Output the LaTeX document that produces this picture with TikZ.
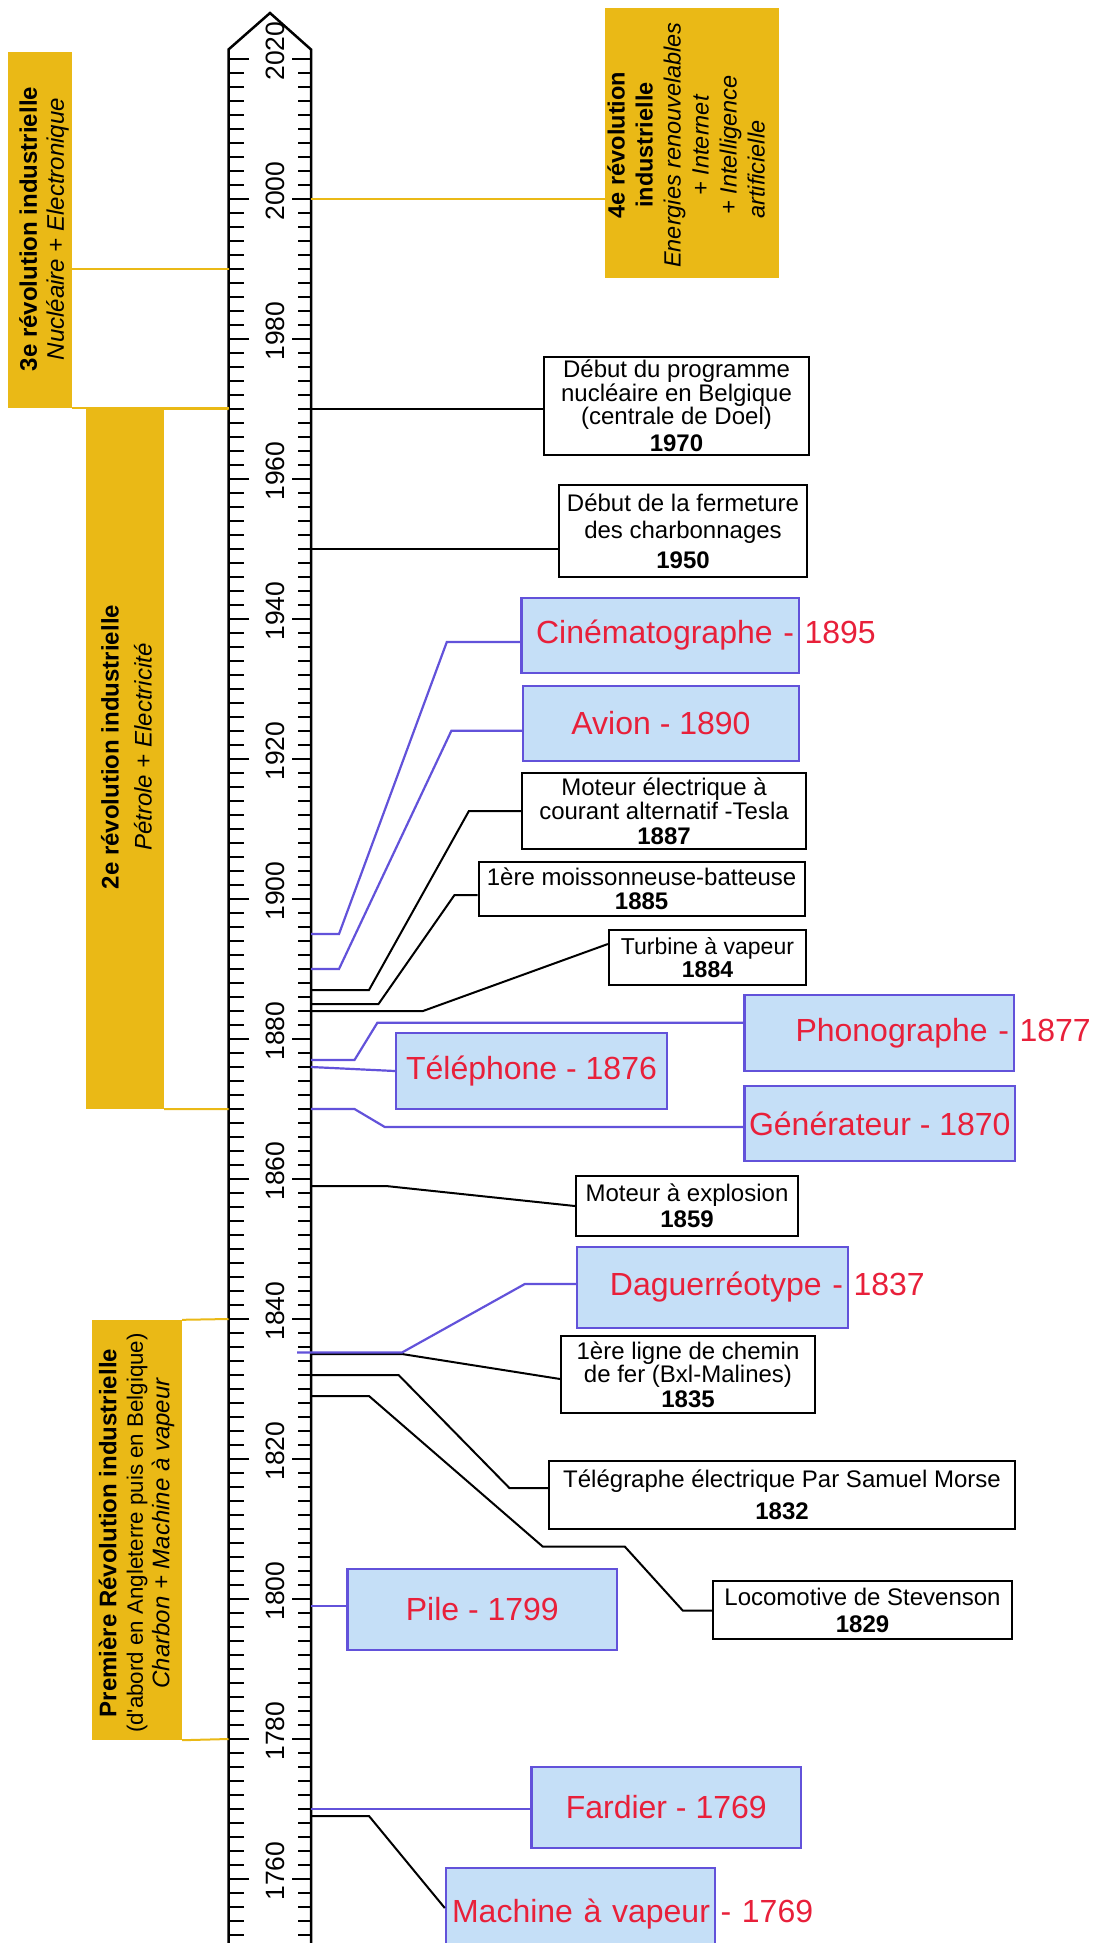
\documentclass[tikz,border=0pt]{standalone}
\usepackage{fontspec}
\setmainfont{Liberation Sans}
\usetikzlibrary{calc,positioning}

\definecolor{revyellow}{RGB}{234,185,22}
\definecolor{invfill}{RGB}{197,223,247}
\definecolor{invblue}{RGB}{98,82,218}
\definecolor{invred}{RGB}{232,32,58}

\begin{document}
\begin{tikzpicture}[x=1pt, y=-1pt,
    declare function={yr(\t)=199+7*(2000-\t);},
    revbox/.style={fill=revyellow, inner sep=0pt},
    revtext/.style={rotate=90, align=center, inner sep=0pt,
      font=\fontsize{24}{27}\selectfont},
    revlink/.style={draw=revyellow, line width=2pt},
    rulertick/.style={line width=2.2pt},
    yearlbl/.style={rotate=90, inner sep=0pt,
      font=\fontsize{26.5}{30}\selectfont},
    evbox/.style={draw, line width=2.2pt, fill=white, align=center,
      inner sep=0pt, font=\fontsize{24}{22}\selectfont},
    evlink/.style={draw, line width=2pt},
    invbox/.style={draw=invblue, line width=2.4pt, fill=invfill,
      text=invred, inner sep=0pt, font=\fontsize{32}{36}\selectfont},
    overflow/.style={text width=#1, align=right, inner xsep=5pt},
    invlink/.style={draw=invblue, line width=2.2pt}
  ]
  \useasboundingbox (0,0) rectangle (1097,1943);

  % The ruler
  \draw[line width=2.5pt, fill=white]
    (228.5,1960) -- (228.5,49.5) -- (270,13) -- (311,49.5) -- (311,1960);
  \foreach \yy in {1752,1754,...,2020}{
    \pgfmathsetmacro{\tl}{mod(\yy,20)==0 ? 20 : 15}
    \pgfmathsetmacro{\tr}{mod(\yy,20)==0 ? 19 : 13}
    \draw[rulertick] (228.5,{yr(\yy)}) -- ++(\tl,0);
    \draw[rulertick] (311,{yr(\yy)}) -- ++(-\tr,0);
  }
  \foreach \yy in {1760,1780,...,2020}
    \node[yearlbl] (lbl\yy) at (275,{yr(\yy)-8}) {\yy};

  % Points on the ruler
  \foreach \yy in {2000,1970,1950,1895,1890,1887,1885,1884,1877,1876,
                   1870,1859,1835,1832,1829,1799,1770,1769}
    \coordinate (r\yy) at (311,{yr(\yy)});
  \foreach \yy in {1990,1970,1870,1840,1780}
    \coordinate (l\yy) at (228.5,{yr(\yy)});
  \coordinate (rdag) at (297,{yr(1835)-1.5});

  % The revolutions
  \node[revbox, minimum width=64pt, minimum height=356pt] (rev3) at (40,230) {};
  \node[revbox, minimum width=78pt, minimum height=700pt] (rev2) at (125,759) {};
  \node[revbox, minimum width=90pt, minimum height=420pt] (rev1) at (137,1530) {};
  \node[revbox, minimum width=174pt, minimum height=270pt] (rev4) at (692,143) {};

  \node[revtext] (rev3txt) at (44,229)
    {\textbf{3e révolution industrielle}\\ \textit{Nucléaire + Electronique}};
  \node[revtext] (rev2txt) at (126.5,747)
    {\textbf{2e révolution industrielle}\\[6pt] \textit{Pétrole + Electricité}};
  \node[revtext, font=\fontsize{24}{26.5}\selectfont] (rev1txt) at (136.5,1533)
    {\textbf{Première Révolution industrielle}\\
     {\fontsize{22.3}{26.5}\selectfont (d\textquotesingle abord en Angleterre puis en Belgique)}\\
     \textit{Charbon + Machine à vapeur}};
  \node[revtext, font=\fontsize{23.5}{28}\selectfont] (rev4txt) at (686,145)
    {\textbf{4e révolution}\\ \textbf{industrielle}\\
     \textit{Energies renouvelables}\\ \textit{+ Internet}\hspace*{49pt}\\
     \textit{+ Intelligence}\hspace*{49pt}\\ \textit{artificielle}\hspace*{49pt}};

  \draw[revlink] (rev3.east |- l1990) -- (l1990);
  \draw[revlink] (rev3.south east) -- (rev3.south east -| l1970);
  \draw[revlink] (rev2.north east) -- (l1970);
  \draw[revlink] (rev2.south east) -- (l1870);
  \draw[revlink] (rev1.north east) -- (l1840);
  \draw[revlink] (rev1.south east) -- (l1780);
  \draw[revlink] (r2000) -- (r2000 -| rev4.west);

  % The events
  \node[evbox, minimum width=265pt, minimum height=98pt] (e1970) at (676.5,406)
    {Début du programme\\ nucléaire en Belgique\\ (centrale de Doel)\\[5pt] \textbf{1970}};
  \node[evbox, minimum width=248pt, minimum height=92pt] (e1950) at (683,531)
    {Début de la fermeture\\[5pt] des charbonnages\\[8pt] \textbf{1950}};
  \node[evbox, minimum width=284pt, minimum height=76pt,
        font=\fontsize{24}{24.5}\selectfont] (e1887) at (664,811)
    {Moteur électrique à\\ courant alternatif -Tesla\\ \textbf{1887}};
  \node[evbox, minimum width=326pt, minimum height=54pt] (e1885) at (641.6,889)
    {1ère moissonneuse-batteuse\\[2pt] \textbf{1885}};
  \node[evbox, minimum width=197pt, minimum height=55pt,
        font=\fontsize{23}{23}\selectfont] (e1884) at (707.5,957.5)
    {Turbine à vapeur\\ \textbf{1884}};
  \node[evbox, minimum width=222pt, minimum height=60pt] (e1859) at (687,1206)
    {Moteur à explosion\\[4pt] \textbf{1859}};
  \node[evbox, minimum width=253.5pt, minimum height=77pt] (e1835) at (688,1374.5)
    {1ère ligne de chemin\\ de fer (Bxl-Malines)\\[3pt] \textbf{1835}};
  \node[evbox, minimum width=466pt, minimum height=68pt] (e1832) at (782,1495)
    {Télégraphe électrique Par Samuel Morse\\[10pt] \textbf{1832}};
  \node[evbox, minimum width=299pt, minimum height=58pt] (e1829) at (862.5,1610)
    {Locomotive de Stevenson\\[5pt] \textbf{1829}};

  % The inventions
  \node[invbox, overflow=267.5pt, minimum height=75pt] (cine) at (660.25,635.5)
    {Cinématographe -\rlap{ 1895}};
  \node[invbox, minimum width=276pt, minimum height=75pt] (avion) at (661,723.5)
    {Avion - 1890};
  \node[invbox, overflow=259.4pt, minimum height=76pt] (phono) at (879.3,1033)
    {Phonographe -\rlap{ 1877}};
  \node[invbox, minimum width=271pt, minimum height=76pt] (tele) at (531.5,1071)
    {Téléphone - 1876};
  \node[invbox, minimum width=270.4pt, minimum height=75pt] (gen) at (879.8,1123.5)
    {Générateur - 1870};
  \node[invbox, overflow=261pt, minimum height=81pt] (dag) at (712.5,1287.5)
    {Daguerréotype -\rlap{ 1837}};
  \node[invbox, minimum width=269.4pt, minimum height=81pt] (pile) at (482.3,1609.5)
    {Pile - 1799};
  \node[invbox, minimum width=269.5pt, minimum height=81pt] (fardier) at (666.25,1807.5)
    {Fardier - 1769};
  \node[invbox, overflow=259pt, minimum height=92pt] (machine) at (580.5,1914)
    {Machine à vapeur\rlap{ - 1769}};

  % Connect the ruler with the boxes
  \draw[evlink] (r1970) -- (r1970 -| e1970.west);
  \draw[evlink] (r1950) -- (r1950 -| e1950.west);
  \draw[invlink] (r1895) -- ++(28,0) -- ($(cine.west)+(-73.5,6.5)$) -- ($(cine.west)+(0,6.5)$);
  \draw[invlink] (r1890) -- ++(28,0) -- ($(avion.west)+(-70.4,7.2)$) -- ($(avion.west)+(0,7.2)$);
  \draw[evlink] (r1887) -- ++(58,0) -- ($(e1887.west)+(-52,0)$) -- (e1887.west);
  \draw[evlink] (r1885) -- ++(67.5,0) -- ($(e1885.west)+(-23,6)$) -- ($(e1885.west)+(0,6)$);
  \draw[evlink] (r1884) -- ++(112,0) -- ($(e1884.west)+(0,-13.5)$);
  \draw[invlink] (r1877) -- ++(43.5,0) -- ($(phono.west)+(-366,-10.3)$) -- ($(phono.west)+(0,-10.3)$);
  \draw[invlink] (r1876) -- (tele.west);
  \draw[invlink] (r1870) -- ++(43.5,0) -- ($(gen.west)+(-358.6,3.5)$) -- ($(gen.west)+(0,3.5)$);
  \draw[evlink] (r1859) -- ++(75,0) -- (e1859.west);
  \draw[evlink] (r1835) -- ++(91,0) -- ($(e1835.west)+(0,4.5)$);
  \draw[invlink] (rdag) -- ++(105,0) -- ($(dag.west)+(-51,-3.5)$) -- ($(dag.west)+(0,-3.5)$);
  \draw[evlink] (r1832) -- ++(87.6,0) -- ($(e1832.west)+(-38.5,-7)$) -- ($(e1832.west)+(0,-7)$);
  \draw[evlink] (r1829) -- ++(58,0) -- ($(e1829.west)+(-169,-63.3)$)
    -- ($(e1829.west)+(-87,-63.3)$) -- ($(e1829.west)+(-29,0.7)$) -- ($(e1829.west)+(0,0.7)$);
  \draw[invlink] (r1799) -- (r1799 -| pile.west);
  \draw[invlink] (r1770) -- (r1770 -| fardier.west);
  \draw[evlink] (r1769) -- ++(58,0) -- ($(machine.west)+(0,-6)$);
\end{tikzpicture}
\end{document}
